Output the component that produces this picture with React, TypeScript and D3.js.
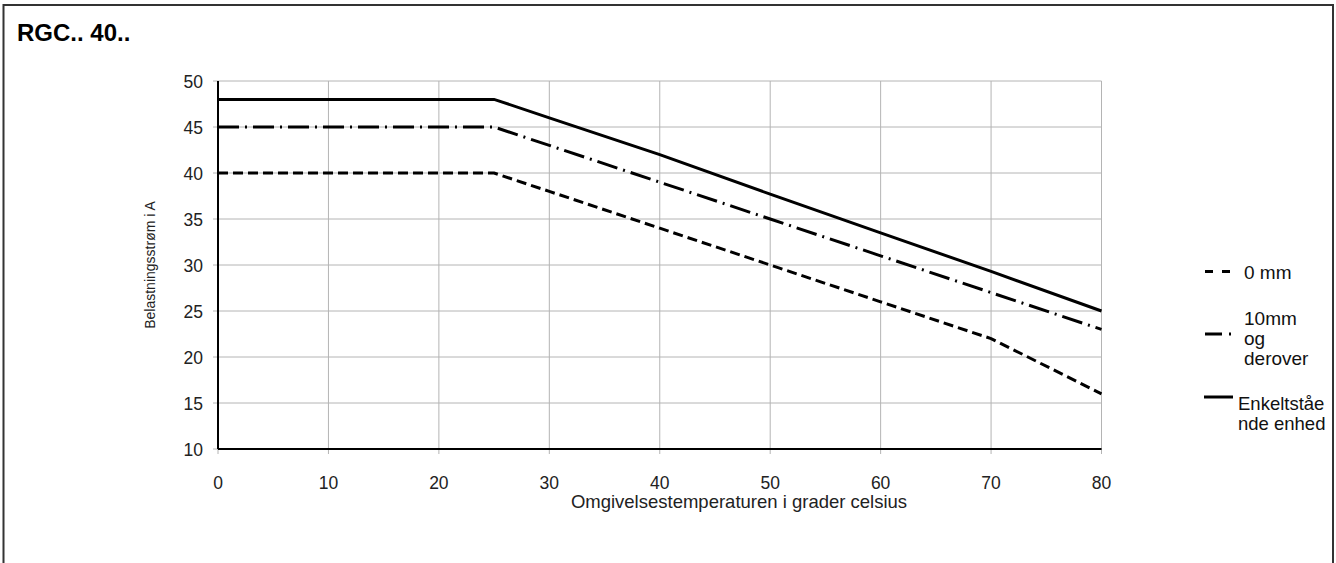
import React from "react";
import * as d3 from "d3";

// Derating curves: load current (A) versus ambient temperature (°C)
const temperatures = [0, 25, 30, 40, 50, 60, 70, 80];
const current0mm = [40, 40, 38, 34, 30, 26, 22, 16];
const current10mm = [45, 45, 43, 39, 35, 31, 27, 23];
const currentSingle = [48, 48, 46, 42, 37.7, 33.5, 29.3, 25];

const xTicks = [0, 10, 20, 30, 40, 50, 60, 70, 80];
const yTicks = [10, 15, 20, 25, 30, 35, 40, 45, 50];

const title = "RGC.. 40..";
const xTitle = "Omgivelsestemperaturen i grader celsius";
const yTitle = "Belastningsstrøm i A";
const legend0 = ["0 mm"];
const legend10 = ["10mm", "og", "derover"];
const legendSingle = ["Enkeltståe", "nde enhed"];

const W = 1336;
const H = 563;
const FONT = "'Liberation Sans', Arial, Helvetica, sans-serif";

const DASH = "10 5";
const DASH_DOT = "21 6 2 6";

export default function App() {
  const x = d3.scaleLinear().domain([0, 80]).range([218, 1101.5]);
  const y = d3.scaleLinear().domain([10, 50]).range([449, 81]);

  const line = d3
    .line<number>()
    .x((_, i) => x(temperatures[i]))
    .y((d) => y(d));

  const [x0, x1] = x.range();
  const [yb, yt] = y.range();

  return (
    <svg
      width={W}
      height={H}
      style={{ position: "absolute", left: 0, top: 0, background: "#fff" }}
      fontFamily={FONT}
    >
      {/* outer frame */}
      <rect x={3.5} y={5} width={1329.5} height={H + 20} fill="none" stroke="#333" strokeWidth={2} />

      <text x={17} y={41} fontSize={24} fontWeight="bold" fill="#000">
        {title}
      </text>

      {/* grid */}
      {xTicks.map((t) => (
        <line key={"gx" + t} x1={x(t)} x2={x(t)} y1={yt} y2={yb + 5} stroke="#b4b4b4" strokeWidth={1} />
      ))}
      {yTicks.map((t) => (
        <line key={"gy" + t} x1={x0 - 5} x2={x1} y1={y(t)} y2={y(t)} stroke="#b4b4b4" strokeWidth={1} />
      ))}

      {/* axes */}
      <line x1={x0} x2={x0} y1={yt} y2={yb} stroke="#000" strokeWidth={2} />
      <line x1={x0} x2={x1} y1={yb} y2={yb} stroke="#000" strokeWidth={2} />

      {/* tick labels */}
      {yTicks.map((t) => (
        <text key={"ly" + t} x={203} y={y(t) + 6.5} textAnchor="end" fontSize={17.5} fill="#222">
          {t}
        </text>
      ))}
      {xTicks.map((t) => (
        <text key={"lx" + t} x={x(t)} y={489} textAnchor="middle" fontSize={17.5} fill="#222">
          {t}
        </text>
      ))}

      <text x={739} y={508} textAnchor="middle" fontSize={18.5} fill="#222">
        {xTitle}
      </text>
      <text
        transform={`translate(155, ${(yt + yb) / 2}) rotate(-90)`}
        textAnchor="middle"
        fontSize={14}
        fill="#222"
      >
        {yTitle}
      </text>

      {/* curves */}
      <path d={line(current0mm) ?? ""} fill="none" stroke="#000" strokeWidth={3} strokeDasharray={DASH} />
      <path d={line(current10mm) ?? ""} fill="none" stroke="#000" strokeWidth={3} strokeDasharray={DASH_DOT} />
      <path d={line(currentSingle) ?? ""} fill="none" stroke="#000" strokeWidth={3} />

      {/* legend */}
      <line x1={1205} x2={1231} y1={271.5} y2={271.5} stroke="#000" strokeWidth={3} strokeDasharray="8 9" />
      {legend0.map((s, i) => (
        <text key={s} x={1244} y={278.5 + i * 20} fontSize={19} fill="#111">
          {s}
        </text>
      ))}
      <line x1={1205} x2={1232} y1={334} y2={334} stroke="#000" strokeWidth={3} strokeDasharray="17 7 2 6" />
      {legend10.map((s, i) => (
        <text key={s} x={1244} y={325 + i * 20} fontSize={19} fill="#111">
          {s}
        </text>
      ))}
      <line x1={1204} x2={1233} y1={397} y2={397} stroke="#000" strokeWidth={3} />
      {legendSingle.map((s, i) => (
        <text key={s} x={1238} y={410 + i * 20} fontSize={18.5} fill="#111">
          {s}
        </text>
      ))}
    </svg>
  );
}
